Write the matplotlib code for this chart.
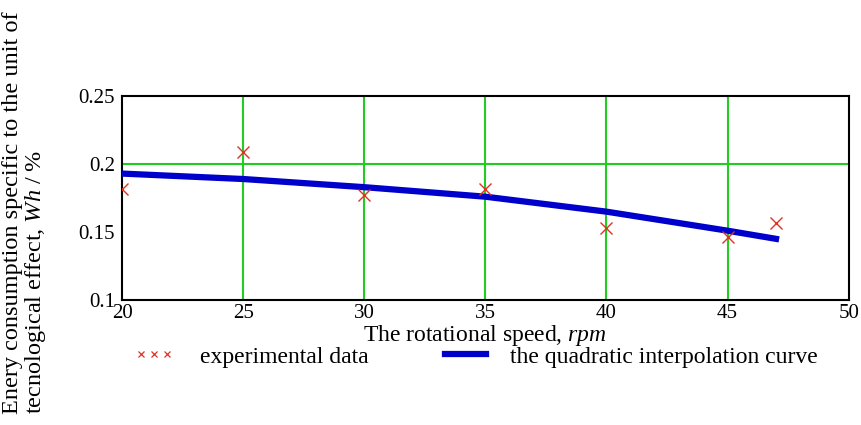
import matplotlib.pyplot as plt
from matplotlib.lines import Line2D

# Experimental data
speed = [20, 25, 30, 35, 40, 45, 47]
energy = [0.182, 0.209, 0.177, 0.182, 0.153, 0.146, 0.157]

# Quadratic interpolation curve
curve_speed = [20, 25, 30, 35, 40, 45, 47]
curve_energy = [0.193, 0.189, 0.183, 0.176, 0.165, 0.151, 0.145]

xticks = [20, 25, 30, 35, 40, 45, 50]
yticks = [0.1, 0.15, 0.2, 0.25]
ytick_labels = ['0.1', '0.15', '0.2', '0.25']

plt.rcParams['font.family'] = ['Liberation Serif', 'DejaVu Serif']
plt.rcParams['mathtext.fontset'] = 'custom'
plt.rcParams['mathtext.it'] = 'Liberation Serif:italic'
plt.rcParams['mathtext.rm'] = 'Liberation Serif'

fig = plt.figure(figsize=(8.61, 4.25), dpi=100)
ax = fig.add_axes([0.1417, 0.294, 0.844, 0.480])

# green grid
for x in xticks[1:-1]:
    ax.axvline(x, color='#22cc22', lw=1.5, zorder=1)
ax.axhline(0.2, color='#22cc22', lw=1.5, zorder=1)

ax.plot(curve_speed, curve_energy, color='#0000cc', lw=4.5, zorder=3)
ax.plot(speed, energy, 'x', color='#dd3322', ms=8, mew=1.0, zorder=4)

ax.set_xlim(20, 50)
ax.set_ylim(0.1, 0.25)
ax.set_xticks(xticks)
ax.set_yticks(yticks)
ax.set_yticklabels(ytick_labels)
ax.tick_params(length=0, labelsize=15)
ax.tick_params(axis='x', pad=3)
ax.tick_params(axis='y', pad=5)
for s in ax.spines.values():
    s.set_linewidth(1.5)

ax.set_xlabel('The rotational speed, $\\mathit{rpm}$', fontsize=17, labelpad=0)

fig.text(0.002, 0.5, 'Enery consumption specific to the unit of\n'
         'tecnological effect, $\\mathit{Wh\\ /\\ \\%}$',
         rotation=90, fontsize=17.5, ha='left', va='center', linespacing=1.0)

# legend drawn below the axes, two separate entries
h1 = Line2D([], [], ls='none', marker='x', color='#dd3322', ms=5, mew=0.9)
h2 = Line2D([], [], color='#0000cc', lw=4.5)
leg1 = fig.legend([h1], ['experimental data'], loc='center left',
                  bbox_to_anchor=(134 / 861, 1 - 357 / 425), frameon=False,
                  fontsize=17, handlelength=1.7, handletextpad=1.1,
                  borderpad=0, borderaxespad=0, numpoints=3)
leg2 = fig.legend([h2], ['the quadratic interpolation curve'], loc='center left',
                  bbox_to_anchor=(445 / 861, 1 - 357 / 425), frameon=False,
                  fontsize=17, handlelength=1.75, handletextpad=1.0,
                  borderpad=0, borderaxespad=0)

plt.savefig('out.png', dpi=100)
